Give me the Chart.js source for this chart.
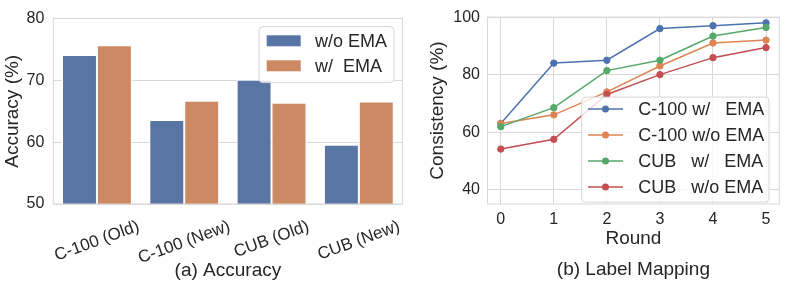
<!DOCTYPE html>
<html>
<head>
<meta charset="utf-8">
<script src="https://cdn.jsdelivr.net/npm/chart.js@4.4.1/dist/chart.umd.min.js"></script>
<style>
  html, body { margin: 0; padding: 0; background: #fff; }
  #wrap { position: relative; width: 789px; height: 285px; }
  #accBox { position: absolute; left: 0; top: 0; width: 410px; height: 285px; }
  #mapBox { position: absolute; left: 410px; top: 0; width: 379px; height: 285px; }
</style>
</head>
<body>
<div id="wrap">
  <div id="accBox"><canvas id="accChart" width="410" height="285"></canvas></div>
  <div id="mapBox"><canvas id="mapChart" width="379" height="285"></canvas></div>
</div>
<script>
// (a) Accuracy
const accCategories = ['C-100 (Old)', 'C-100 (New)', 'CUB (Old)', 'CUB (New)'];
const accWithoutEMA = [74.1, 63.6, 70.1, 59.6];
const accWithEMA = [75.7, 66.7, 66.4, 66.6];
const accTicks = [50, 60, 70, 80];

// (b) Label Mapping
const rounds = [0, 1, 2, 3, 4, 5];
const c100WithEMA = [63.0, 84.0, 85.0, 96.0, 97.0, 98.0];
const c100WithoutEMA = [63.0, 66.0, 74.0, 83.0, 91.0, 92.0];
const cubWithEMA = [61.9, 68.5, 81.4, 85.0, 93.4, 96.4];
const cubWithoutEMA = [54.1, 57.5, 73.1, 80.0, 85.9, 89.4];
const mapTicks = [40, 60, 80, 100];

const FONT = "'Liberation Sans', Arial, sans-serif";
const TEXT = '#262626';
const GRID = '#d9d9d9';

Chart.defaults.font.family = FONT;
Chart.defaults.color = TEXT;

const pairs = (xs, ys) => xs.map((x, i) => ({ x: x, y: ys[i] }));

// box around the plot area, drawn on top of the marks like matplotlib spines
const framePlugin = {
    id: 'frame',
    afterDatasetsDraw(chart) {
        const { ctx, chartArea: a } = chart;
        ctx.save();
        ctx.strokeStyle = GRID;
        ctx.lineWidth = 1;
        ctx.strokeRect(a.left, a.top, a.right - a.left, a.bottom - a.top);
        ctx.restore();
    }
};

// caption under each panel
const caption = (text, size, fromBottom) => ({
    id: 'caption',
    afterDraw(chart) {
        const { ctx, chartArea: a } = chart;
        ctx.save();
        ctx.font = size + 'px ' + FONT;
        ctx.fillStyle = TEXT;
        ctx.textAlign = 'center';
        ctx.textBaseline = 'middle';
        ctx.fillText(text, (a.left + a.right) / 2, chart.height - fromBottom);
        ctx.restore();
    }
});

// category labels rotated about their centre (chart.js anchors rotated labels at the end)
const slantedLabels = (angleDeg, size, pad) => ({
    id: 'slantedLabels',
    afterDraw(chart) {
        const ctx = chart.ctx;
        const bottom = chart.chartArea.bottom;
        const xs = chart.scales.x;
        const ang = angleDeg * Math.PI / 180;
        ctx.save();
        ctx.font = size + 'px ' + FONT;
        ctx.fillStyle = TEXT;
        ctx.textAlign = 'center';
        ctx.textBaseline = 'middle';
        accCategories.forEach((lab, i) => {
            const w = ctx.measureText(lab).width;
            const boxH = w * Math.sin(ang) + size * Math.cos(ang);
            const cx = xs.getPixelForValue(i);
            const cy = bottom + pad + boxH / 2;
            ctx.setTransform(Math.cos(ang), -Math.sin(ang), Math.sin(ang), Math.cos(ang), cx, cy);
            ctx.fillText(lab, 0, 0);
        });
        ctx.restore();
    }
});

// framed legend inside the plot area
const boxLegend = (o) => ({
    id: 'boxLegend',
    afterDatasetsDraw(chart) {
        const { ctx, chartArea: a } = chart;
        const left = a.right - o.right - o.width;
        const top = a.top + o.top;
        ctx.save();
        ctx.beginPath();
        ctx.roundRect(left, top, o.width, o.height, 4);
        ctx.fillStyle = 'rgba(255,255,255,0.8)';
        ctx.fill();
        ctx.strokeStyle = '#d6d6d6';
        ctx.lineWidth = 1;
        ctx.stroke();
        ctx.font = o.size + 'px ' + FONT;
        ctx.textBaseline = 'middle';
        chart.data.datasets.forEach((ds, i) => {
            const cy = top + o.firstRow + i * o.rowGap;
            const sx = left + o.swatchX;
            if (o.kind === 'bar') {
                ctx.fillStyle = ds.backgroundColor;
                ctx.fillRect(sx, cy - 5.5, o.swatchW, 11);
            } else {
                ctx.strokeStyle = ds.borderColor;
                ctx.lineWidth = 1.5;
                ctx.beginPath();
                ctx.moveTo(sx, cy);
                ctx.lineTo(sx + o.swatchW, cy);
                ctx.stroke();
                ctx.fillStyle = ds.borderColor;
                ctx.beginPath();
                ctx.arc(sx + o.swatchW / 2, cy, 3.5, 0, Math.PI * 2);
                ctx.fill();
            }
            ctx.fillStyle = TEXT;
            ctx.fillText(ds.label, left + o.textX, cy + 1);
        });
        ctx.restore();
    }
});

new Chart(document.getElementById('accChart').getContext('2d'), {
    type: 'bar',
    data: {
        labels: accCategories,
        datasets: [
            { label: 'w/o EMA', data: accWithoutEMA, backgroundColor: '#5975a4', borderColor: '#ffffff', borderWidth: 1 },
            { label: 'w/  EMA', data: accWithEMA, backgroundColor: '#cc8963', borderColor: '#ffffff', borderWidth: 1 }
        ]
    },
    options: {
        responsive: false,
        animation: false,
        layout: { padding: { top: 10, right: 7.5, bottom: 0, left: 0 } },
        datasets: { bar: { barPercentage: 1.0, categoryPercentage: 0.8 } },
        scales: {
            x: {
                grid: { display: false },
                border: { display: false },
                ticks: { display: false },
                afterFit: s => { s.height = 81; }
            },
            y: {
                min: 50,
                max: 80,
                afterBuildTicks: s => { s.ticks = accTicks.map(v => ({ value: v })); },
                grid: { color: GRID, drawTicks: false },
                border: { display: false },
                ticks: { font: { size: 16 }, padding: 9, color: TEXT },
                title: { display: true, text: 'Accuracy (%)', font: { size: 19 }, padding: { top: 1, bottom: 0 }, color: TEXT },
                afterFit: s => { s.width = 53.3; }
            }
        },
        plugins: {
            legend: { display: false },
            tooltip: { enabled: false }
        }
    },
    plugins: [
        framePlugin,
        slantedLabels(20, 17, 14),
        caption('(a) Accuracy', 19, 14),
        boxLegend({ kind: 'bar', size: 18, right: 8.5, top: 8, width: 135, height: 56,
                    firstRow: 14.2, rowGap: 25, swatchX: 7.7, swatchW: 34, textX: 56 })
    ]
});

const lineSet = (label, ys, color, order) => ({
    label: label,
    data: pairs(rounds, ys),
    borderColor: color,
    backgroundColor: color,
    borderWidth: 1.5,
    pointRadius: 3.2,
    pointBorderWidth: 1,
    pointBackgroundColor: color,
    pointBorderColor: color,
    order: order
});

new Chart(document.getElementById('mapChart').getContext('2d'), {
    type: 'line',
    data: {
        datasets: [
            lineSet('C-100 w/   EMA', c100WithEMA, '#4c72b0', 3),
            lineSet('C-100 w/o EMA', c100WithoutEMA, '#dd8452', 2),
            lineSet('CUB   w/   EMA', cubWithEMA, '#55a868', 1),
            lineSet('CUB   w/o EMA', cubWithoutEMA, '#c44e52', 0)
        ]
    },
    options: {
        responsive: false,
        animation: false,
        layout: { padding: { top: 9.3, right: 9.7, bottom: 0, left: 0 } },
        scales: {
            x: {
                type: 'linear',
                min: -0.25,
                max: 5.25,
                afterBuildTicks: s => { s.ticks = rounds.map(v => ({ value: v })); },
                grid: { color: GRID, drawTicks: false },
                border: { display: false },
                ticks: { font: { size: 16 }, padding: 6, color: TEXT },
                title: { display: true, text: 'Round', font: { size: 19 }, padding: { top: 0, bottom: 34.6 }, color: TEXT },
                afterFit: s => { s.height = 81; }
            },
            y: {
                min: 35,
                max: 100,
                afterBuildTicks: s => { s.ticks = mapTicks.map(v => ({ value: v })); },
                grid: { color: GRID, drawTicks: false },
                border: { display: false },
                ticks: { font: { size: 16 }, padding: 7.5, color: TEXT },
                title: { display: true, text: 'Consistency (%)', font: { size: 19 }, padding: { top: 16.1, bottom: 0 }, color: TEXT },
                afterFit: s => { s.width = 77.5; }
            }
        },
        plugins: {
            legend: { display: false },
            tooltip: { enabled: false }
        }
    },
    plugins: [
        framePlugin,
        caption('(b) Label Mapping', 19, 15),
        boxLegend({ kind: 'line', size: 18, right: 10.3, top: 80, width: 187.3, height: 105,
                    firstRow: 12, rowGap: 26, swatchX: 6.3, swatchW: 35, textX: 56.6 })
    ]
});
</script>
</body>
</html>
